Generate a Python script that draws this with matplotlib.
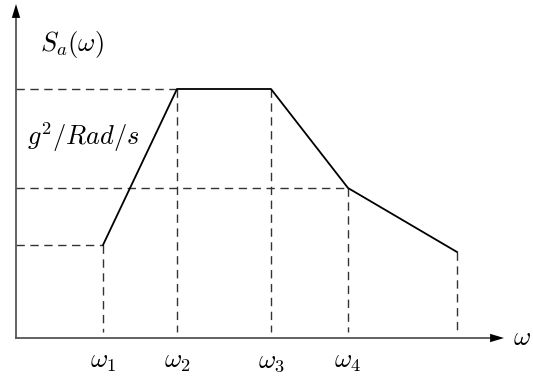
import matplotlib.pyplot as plt

plt.rcParams['mathtext.fontset'] = 'cm'

# corner frequencies and spectrum levels (arbitrary units)
omega = [8.7, 16.1, 25.5, 33.2, 44.1]
s_a = [9.3, 24.9, 24.9, 15.0, 8.6]
omega_labels = [r'$\omega_1$', r'$\omega_2$', r'$\omega_3$', r'$\omega_4$']

fig = plt.figure(figsize=(5.33, 3.77), dpi=100)
ax = fig.add_axes([16 / 533, 39 / 377, 517 / 533, 338 / 377])
ax.set_xlim(0, 51.7)
ax.set_ylim(0, 33.8)
ax.axis('off')

dash = dict(color='#333333', lw=1.0, ls=(0, (6, 4)))

# guide lines from each corner point to the axes
for w, s in zip(omega, s_a):
    ax.plot([w, w], [s, 0.6], **dash)
for i in [0, 1, 3]:
    ax.plot([0, omega[i]], [s_a[i], s_a[i]], **dash)

ax.plot(omega, s_a, color='black', lw=1.3)

# axes with arrowheads
head = dict(arrowstyle='-|>,head_length=1.0,head_width=0.3',
            color='black', lw=0, shrinkA=0, shrinkB=0)
ax.plot([0, 0], [0, 32.2], color='#555555', lw=1.3, clip_on=False)
ax.plot([0, 47.6], [0, 0], color='#555555', lw=1.3, clip_on=False)
ax.annotate('', xy=(0, 33.4), xytext=(0, 32.0), arrowprops=head,
            annotation_clip=False)
ax.annotate('', xy=(48.8, 0), xytext=(47.4, 0), arrowprops=head,
            annotation_clip=False)

fs = 19
for w, lab in zip(omega, omega_labels):
    ax.text(w, -3.0, lab, fontsize=fs, ha='center', va='baseline')
ax.text(49.7, 0, r'$\omega$', fontsize=fs, ha='left', va='center')
ax.text(2.4, 29.4, r'$S_a(\omega)$', fontsize=fs, ha='left', va='center')
ax.text(1.1, 20.1, r'$g^2/Rad/s$', fontsize=fs, ha='left', va='center')

fig.savefig('out.png', dpi=100)
